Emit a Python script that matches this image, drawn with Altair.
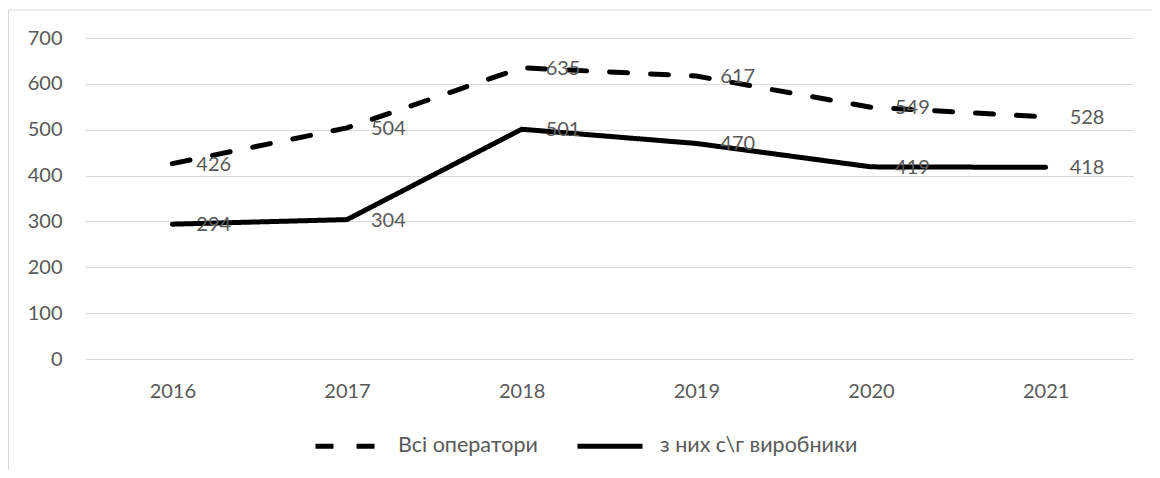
import altair as alt
import pandas as pd

years = ["2016", "2017", "2018", "2019", "2020", "2021"]
series_names = ["Всі оператори", "з них с\\г виробники"]
all_operators = [426, 504, 635, 617, 549, 528]
producers = [294, 304, 501, 470, 419, 418]
y_ticks = [0, 100, 200, 300, 400, 500, 600, 700]

rows = []
for y, v in zip(years, all_operators):
    rows.append({"year": y, "series": series_names[0], "value": v})
for y, v in zip(years, producers):
    rows.append({"year": y, "series": series_names[1], "value": v})
df = pd.DataFrame(rows)

FONT = "Lato"
GRAY = "#595959"

x_enc = alt.X(
    "year:N",
    sort=years,
    scale=alt.Scale(type="point", padding=0.5),
    axis=alt.Axis(title=None, labelAngle=0, domain=False, ticks=False, grid=False,
                  labelPadding=22, labelFont=FONT, labelFontSize=20, labelColor=GRAY),
)
y_enc = alt.Y(
    "value:Q",
    scale=alt.Scale(domain=[0, 700], nice=False, zero=True),
    axis=alt.Axis(title=None, values=y_ticks, domain=False, ticks=False, labelPadding=23,
                  labelFont=FONT, labelFontSize=20, labelColor=GRAY,
                  gridColor="#d9d9d9", gridWidth=1),
)

base = alt.Chart(df)

lines = base.mark_line(strokeWidth=5, strokeCap="round", strokeJoin="round", color="black").encode(
    x=x_enc,
    y=y_enc,
    strokeDash=alt.StrokeDash(
        "series:N",
        sort=series_names,
        scale=alt.Scale(domain=series_names, range=[[18, 23], [1, 0]]),
        legend=alt.Legend(
            title=None, orient="none", legendX=228, legendY=373, direction="horizontal",
            symbolType="stroke", symbolSize=4225, symbolStrokeWidth=5,
            symbolStrokeColor="black", labelFont=FONT, labelFontSize=21.5,
            labelColor=GRAY, labelOffset=15, columnPadding=29, padding=0,
            labelLimit=500,
        ),
    ),
)

labels = base.mark_text(align="left", baseline="middle", dx=24, dy=1,
                        font=FONT, fontSize=20, color=GRAY).encode(
    x=alt.X("year:N", sort=years),
    y="value:Q",
    text="value:Q",
)

one = alt.Data(values=[{"a": 1}])
frame_left = alt.Chart(one).mark_rule(color="#d9d9d9", strokeWidth=1).encode(
    x=alt.value(-76.5), y=alt.value(-28), y2=alt.value(600)
)
frame_top = alt.Chart(one).mark_rule(color="#d9d9d9", strokeWidth=1).encode(
    x=alt.value(-76.5), x2=alt.value(2000), y=alt.value(-28)
)

chart = alt.layer(frame_left, frame_top, lines, labels).properties(
    width=1048,
    height=321,
    padding={"left": 77, "top": 30, "right": 19, "bottom": 111},
    autosize=alt.AutoSizeParams(type="none"),
).configure_view(stroke=None)

chart.save("out.html", embed_options={"renderer": "svg", "actions": False})
